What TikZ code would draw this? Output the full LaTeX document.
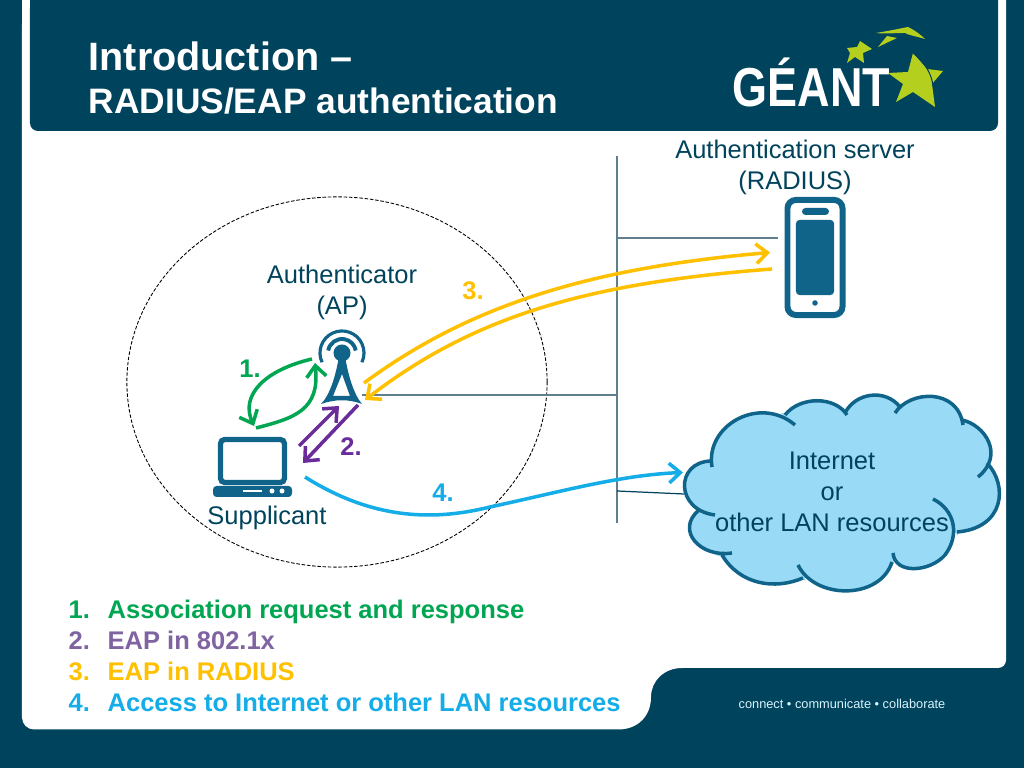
\documentclass[tikz,border=0pt]{standalone}
\usepackage{fontspec}
\setmainfont{Liberation Sans}
\usepackage{xcolor}
\usetikzlibrary{arrows.meta,positioning,calc,shapes.geometric}
\definecolor{slate}{HTML}{00435C}
\definecolor{iconblue}{HTML}{10648A}
\definecolor{busgray}{HTML}{5F7F8F}
\definecolor{cloudfill}{HTML}{99DBF7}
\definecolor{limestar}{HTML}{B5CF1E}
\definecolor{arrgreen}{HTML}{00A651}
\definecolor{arrpurple}{HTML}{6A2C9A}
\definecolor{arryellow}{HTML}{FFC000}
\definecolor{arrblue}{HTML}{14ADE8}
\definecolor{itemgreen}{HTML}{00A651}
\definecolor{itempurple}{HTML}{8064A2}
\newcommand{\bodysize}{\fontsize{7.25}{8.8}\selectfont}
\newcommand{\cloudlobes}{
  (712,467) .. controls (705,425) and (760,395) .. (795,425)
  (785,415) .. controls (800,396) and (835,396) .. (847,415)
  (845,413) .. controls (855,393) and (885,388) .. (900,407)
  (895,413) .. controls (910,390) and (958,388) .. (963,425)
  (962,420) .. controls (985,425) and (1005,455) .. (978,477)
  (987,463) .. controls (1008,485) and (1005,528) .. (957,532)
  (933,499) .. controls (955,510) and (960,535) .. (945,555)
            .. controls (930,572) and (895,575) .. (893,553)
  (892,562) .. controls (880,600) and (815,600) .. (798,565)
  (803,578) .. controls (775,590) and (740,585) .. (722,555)
  (732,553) .. controls (700,558) and (675,530) .. (699,510)
  (715,515) .. controls (675,510) and (675,462) .. (711,461)
}
\tikzset{
  >={Straight Barb[length=3.2pt,width=5.6pt]},
  titletxt/.style ={text=white, anchor=west, inner sep=0pt},
  lbl/.style      ={font=\bodysize, text=slate, align=center, inner sep=0pt},
  numlbl/.style   ={font=\bodysize\bfseries, inner sep=0pt},
  bus/.style      ={draw=busgray, line width=0.35pt},
  flow/.style     ={->, line width=1pt},
  icon/.style     ={fill=iconblue, draw=none},
  star/.style     ={fill=limestar, draw=none},
}
\begin{document}
\begin{tikzpicture}[x=0.01cm,y=-0.01cm]
% --- slide frame ----------------------------------------------------
\fill[slate] (0,0) rectangle (1024,768);
\fill[white] (22,0) -- (1006,0) -- (1006,660) arc[start angle=0,end angle=-90,radius=0.08cm]
  -- (682,668) .. controls (664,668) and (651,681) .. (651,697)
  .. controls (651,716) and (638,729.5) .. (618,729.5) -- (34,729.5)
  arc[start angle=270,end angle=180,radius=0.12cm] -- cycle;
\fill[slate] (30,0) -- (998,0) -- (998,123) arc[start angle=0,end angle=-90,radius=0.08cm]
  -- (38,131) arc[start angle=270,end angle=180,radius=0.08cm] -- cycle;
\node[titletxt,font=\fontsize{11.25}{12}\selectfont\bfseries] (title1) at (88,56)  {Introduction –};
\node[titletxt,font=\fontsize{10.05}{11}\selectfont\bfseries] (title2) at (88,101) {RADIUS/EAP authentication};
\node[font=\fontsize{3.64}{4}\selectfont, text=white!85!cyan, inner sep=0pt] (tagline) at (842,704)
  {connect • communicate • collaborate};

% --- logo -----------------------------------------------------------
\node[font=\fontsize{15.6}{16}\selectfont\bfseries, text=white, inner sep=0pt, anchor=base west,
  xscale=0.82, transform shape] (logotext) at (732,107) {GÉANT};
\fill[star] (860,41) -- (872,49) -- (863,53) -- (864,63) -- (855,57) -- (847,63)
  -- (850,53) -- (847,48) -- (857,47) -- cycle;
\fill[star] (876,33) .. controls (888,31) and (898,29) .. (908,27)
  .. controls (916,31) and (921,35) .. (925,39) .. controls (915,36) and (908,35) .. (905,33)
  .. controls (895,33) and (885,34) .. (876,33) -- cycle;
\fill[star] (878,47) -- (887,36) -- (897,38) -- cycle;
\fill[star] (913,53) -- (927,69) -- (943,71) -- (932,84) -- (935,107) -- (913,92)
  -- (896,102) -- (903,84) -- (888,73) -- (908,72) -- cycle;
\draw[slate,line width=0.3pt] (913,53) .. controls (925,62) and (932,75) .. (933,86);

% --- the network ----------------------------------------------------
\node[draw=black, ellipse, line width=0.25pt, dash pattern=on 1pt off 0.5pt, minimum width=4.2cm,
  minimum height=3.7cm, inner sep=0pt] (zone) at (337,382) {};
\coordinate (bustop) at (617,156);
\coordinate (busbot) at (617,523);
\coordinate (busa) at (617,238);
\coordinate (busb) at (617,395);
\coordinate (busc) at (617,491);
\coordinate (srvport) at (778,238);
\coordinate (apport) at (362,395);
\coordinate (cloudport) at (684,494);
\draw[bus] (bustop) -- (busbot);
\draw[bus] (busa) -- (srvport);
\draw[bus] (busb) -- (apport);
\draw[slate,line width=0.35pt] (busc) -- (cloudport);

% --- server ---------------------------------------------------------
\node[draw=iconblue, line width=1.7pt, rounded corners=2.4pt, fill=white, minimum width=0.55cm,
  minimum height=1.15cm, inner sep=0pt] (server) at (815,257.5) {};
\node[icon, rounded corners=1pt, minimum width=0.38cm, minimum height=0.75cm, inner sep=0pt] (screen) at (815,257.5) {};
\node[icon, rounded corners=1pt, minimum width=0.27cm, minimum height=0.07cm, inner sep=0pt] (speaker) at (815.5,211.5) {};
\node[icon, circle, minimum size=0.055cm, inner sep=0pt] (homekey) at (815,303) {};

% --- access point ---------------------------------------------------
\node[icon, circle, minimum size=0.17cm, inner sep=0pt] (aphead) at (342,353) {};
\fill[iconblue,even odd rule] (339,356) .. controls (336,375) and (330,395) .. (321,404)
  .. controls (335,399) and (349,399) .. (362,404) .. controls (354,395) and (348,375) .. (345,356) -- cycle
  (342,374) -- (350,396) -- (333,396) -- cycle;
\draw[iconblue,line width=1.1pt] (aphead) ++(170:0.14cm) arc[start angle=170,end angle=10,radius=0.14cm];
\draw[iconblue,line width=0.9pt] (aphead) ++(205:0.22cm) arc[start angle=205,end angle=-25,radius=0.22cm];

% --- laptop ---------------------------------------------------------
\node[draw=iconblue, line width=1.5pt, rounded corners=1.2pt, fill=white, minimum width=0.64cm,
  minimum height=0.43cm, inner sep=0pt] (screenbox) at (252.5,461) {};
\fill[iconblue,rounded corners=1pt] (213,486) rectangle (292,497);
\fill[white] (243,489.8) rectangle (262,492.2);
\node[fill=white, circle, minimum size=0.05cm, inner sep=0pt] (dota) at (272,491) {};
\node[fill=white, circle, minimum size=0.05cm, inner sep=0pt] (dotb) at (282,491) {};

% --- flows ----------------------------------------------------------
\coordinate (asoca) at (312,359);
\coordinate (asocb) at (254,426);
\coordinate (asocc) at (256,428);
\coordinate (asocd) at (315,363);
\draw[flow,arrgreen] (asoca) .. controls (265,370) and (240,395) .. (asocb);
\draw[flow,arrgreen] (asocc) .. controls (295,418) and (320,410) .. (asocd);
\coordinate (eapa) at (299,446);
\coordinate (eapb) at (339,406);
\coordinate (eapc) at (358,405);
\coordinate (eapd) at (303,463);
\draw[flow,arrpurple] (eapa) -- (eapb);
\draw[flow,arrpurple] (eapc) -- (eapd);
\coordinate (rada) at (364,383);
\coordinate (radb) at (770,252.5);
\coordinate (radc) at (772,269);
\coordinate (radd) at (365,400);
\draw[flow,arryellow] (rada) .. controls (470,305) and (590,268) .. (radb);
\draw[flow,arryellow] (radc) .. controls (590,283) and (475,315) .. (radd);
\coordinate (neta) at (305,477);
\coordinate (netb) at (683,472.5);
\draw[flow,arrblue] (neta) .. controls (370,518) and (430,522) .. (490,507)
  .. controls (560,492) and (620,475) .. (netb);

% --- cloud ----------------------------------------------------------
\fill[cloudfill] \cloudlobes;
\filldraw[cloudfill,line width=1pt] (712,467) -- (795,425) -- (785,415) -- (847,415) -- (845,413) -- (900,407)
  -- (895,413) -- (963,425) -- (962,420) -- (978,477) -- (987,463) -- (957,532) -- (933,499)
  -- (893,553) -- (892,562) -- (798,565) -- (803,578) -- (722,555) -- (732,553) -- (699,510)
  -- (715,515) -- (711,461) -- cycle;
\draw[iconblue,line width=1pt] \cloudlobes;

% --- labels ---------------------------------------------------------
\node[lbl] (srvlabel) at (795,167.5) {Authentication server\\(RADIUS)};
\node[lbl] (aplabel) at (342,292) {Authenticator\\(AP)};
\node[lbl] (suplabel) at (267,518) {Supplicant};
\node[lbl] (cloudlabel) at (832,492) {Internet\\or\\other LAN resources};
\node[numlbl,text=arrgreen] (num1) at (250,369) {1.};
\node[numlbl,text=arrpurple] (num2) at (351,447) {2.};
\node[numlbl,text=arryellow] (num3) at (473,291) {3.};
\node[numlbl,text=arrblue] (num4) at (443,493) {4.};

% --- legend ---------------------------------------------------------
\foreach \n/\txt/\col/\yy in {1/Association request and response/itemgreen/619,
    2/EAP in 802.1x/itempurple/650, 3/EAP in RADIUS/arryellow/681,
    4/Access to Internet or other LAN resources/arrblue/712}{
  \node[numlbl,anchor=base west,text=\col] (key\n) at (68,\yy) {\n.};
  \node[numlbl,anchor=base west,text=\col] (item\n) at (107,\yy) {\txt};
}
\end{tikzpicture}
\end{document}
